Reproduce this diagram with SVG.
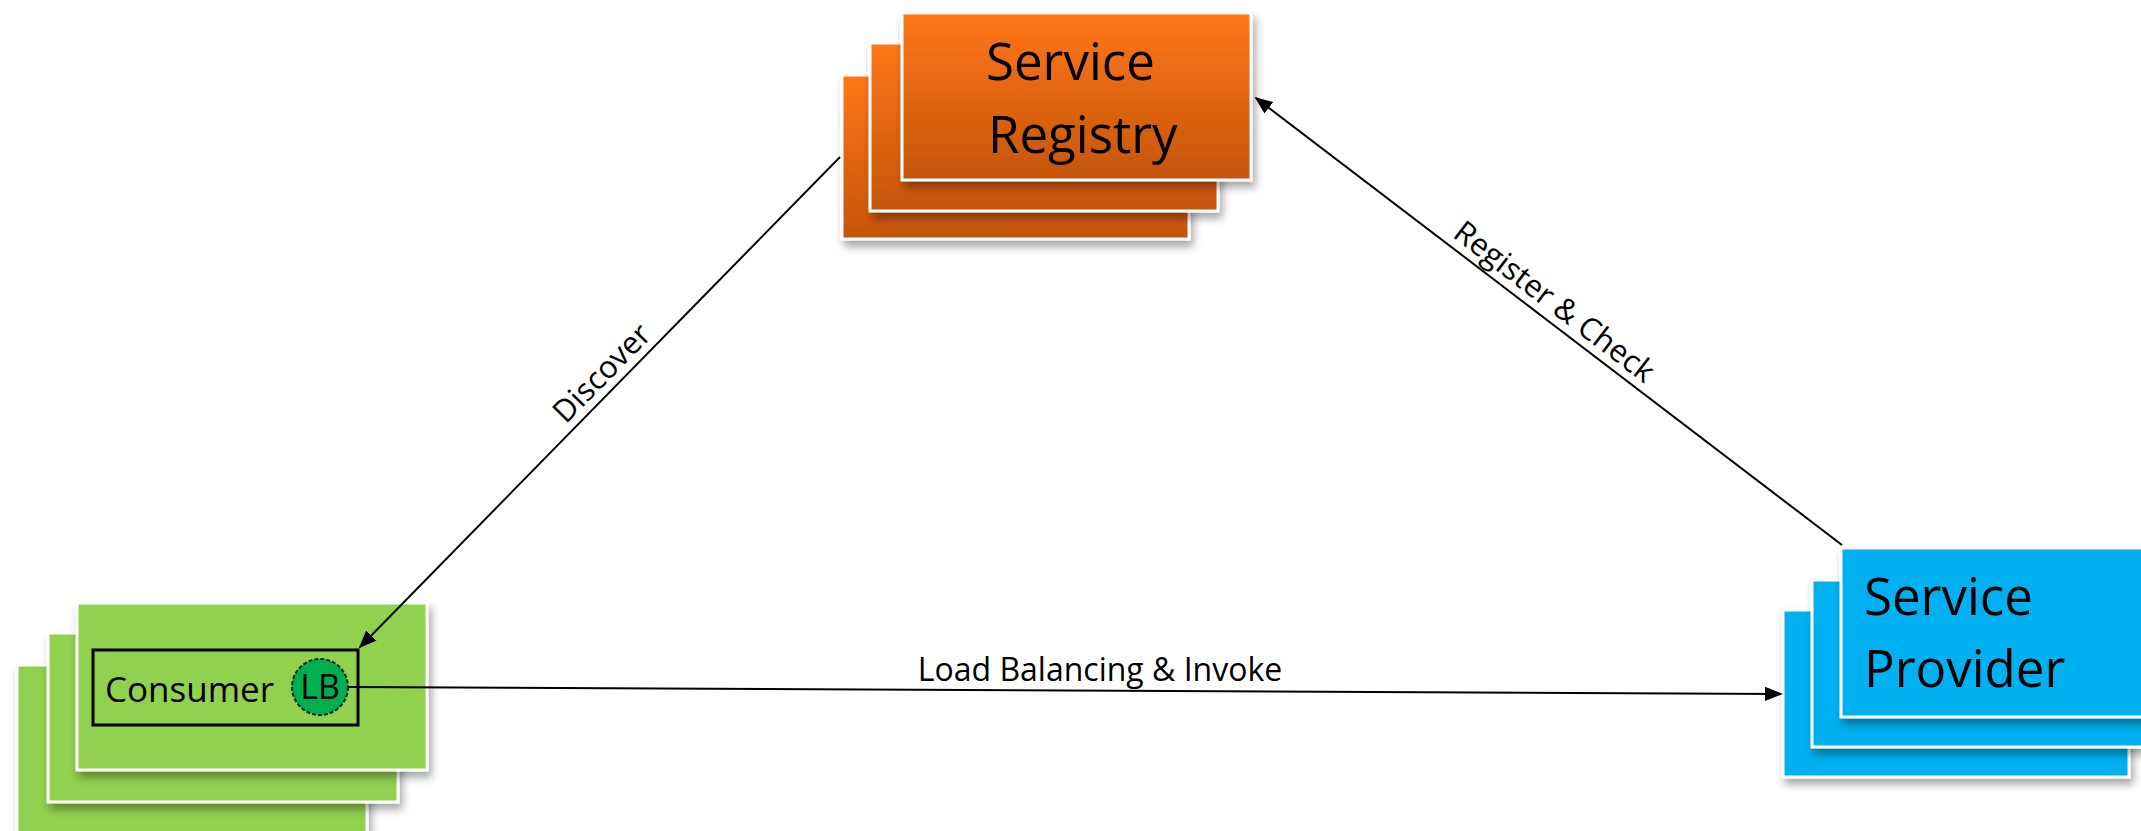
<svg xmlns="http://www.w3.org/2000/svg" width="2141" height="831" viewBox="0 0 2141 831">
  <defs>
    <linearGradient id="gOrange" x1="0" y1="0" x2="0" y2="1">
      <stop offset="0" stop-color="#ff7614"/>
      <stop offset="1" stop-color="#c4550f"/>
    </linearGradient>
    <filter id="shadow" x="-10%" y="-10%" width="130%" height="140%">
      <feDropShadow dx="3" dy="6" stdDeviation="4" flood-color="#000" flood-opacity="0.35"/>
    </filter>
    <marker id="arrowBig" viewBox="0 0 10 10" refX="9" refY="5" markerWidth="18" markerHeight="18" markerUnits="userSpaceOnUse" orient="auto">
      <path d="M0,1 L10,5 L0,9 Z" fill="#000"/>
    </marker>
  </defs>
  <style>
    .card { stroke: #ffffff; stroke-width: 3; filter: url(#shadow); }
    .orange { fill: url(#gOrange); }
    .green { fill: #92d050; }
    .blue { fill: #00b0f0; }
    .title { font-family: "Open Sans", "Liberation Sans", sans-serif; font-size: 51px; fill: #000; }
    .label { font-family: "Open Sans", "Liberation Sans", sans-serif; font-size: 31px; fill: #000; }
    .conn { stroke: #000; stroke-width: 2; fill: none; }
  </style>

  <g id="registry">
    <rect class="card orange" x="842" y="75" width="347" height="164"/>
    <rect class="card orange" x="870" y="43" width="348" height="168"/>
    <rect class="card orange" x="902" y="13" width="349" height="167"/>
    <text class="title" x="986" y="80">Service</text>
    <text class="title" x="988" y="153">Registry</text>
  </g>

  <g id="consumer">
    <rect class="card green" x="17" y="665" width="350" height="170"/>
    <rect class="card green" x="48" y="633" width="350" height="169"/>
    <rect class="card green" x="77" y="603" width="350" height="167"/>
    <rect x="93" y="650" width="265" height="75" fill="none" stroke="#000" stroke-width="3"/>
    <text class="label" x="105" y="702" style="font-size:35px">Consumer</text>
    <circle cx="320" cy="687" r="28" fill="#00b050" stroke="#102810" stroke-width="2" stroke-dasharray="4 2"/>
    <text class="label" x="320" y="699" text-anchor="middle" style="font-size:34px">LB</text>
  </g>

  <g id="provider">
    <rect class="card blue" x="1783" y="610" width="346" height="167"/>
    <rect class="card blue" x="1812" y="580" width="360" height="167"/>
    <rect class="card blue" x="1841" y="548" width="360" height="169"/>
    <text class="title" x="1864" y="615">Service</text>
    <text class="title" x="1864" y="687">Provider</text>
  </g>

  <g id="connectors">
    <line class="conn" x1="840" y1="157" x2="360" y2="647" marker-end="url(#arrowBig)"/>
    <line class="conn" x1="1842" y1="545" x2="1256" y2="98" marker-end="url(#arrowBig)"/>
    <line class="conn" x1="348" y1="687" x2="1781" y2="694" marker-end="url(#arrowBig)"/>
    <text class="label" transform="translate(615,386) rotate(-45.5)" x="0" y="-8" text-anchor="middle">Discover</text>
    <text class="label" transform="translate(1542,318) rotate(37.4)" x="0" y="-10" text-anchor="middle">Register &amp; Check</text>
    <text class="label" x="1100" y="681" text-anchor="middle" style="font-size:32px">Load Balancing &amp; Invoke</text>
  </g>
</svg>
